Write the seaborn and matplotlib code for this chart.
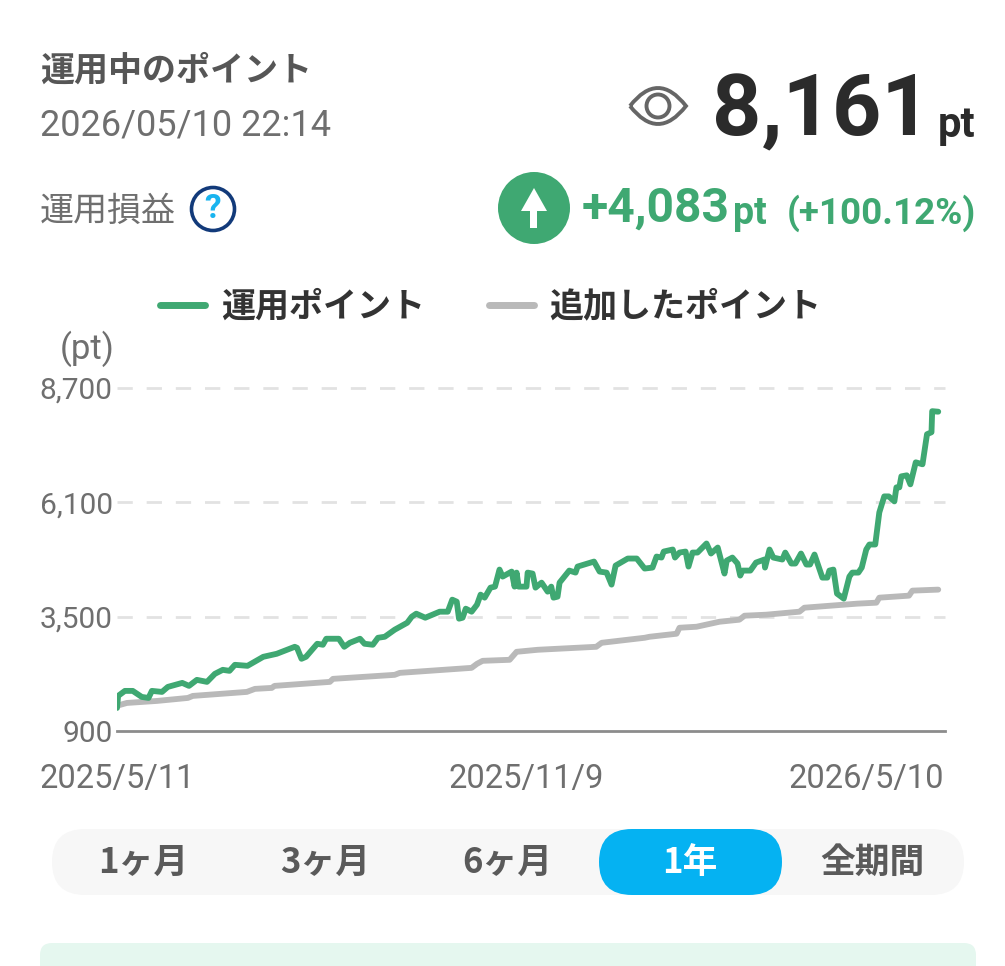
import matplotlib
matplotlib.use("Agg")
import matplotlib.pyplot as plt
from matplotlib.lines import Line2D
from matplotlib.patches import Circle, FancyBboxPatch, Polygon, PathPatch
from matplotlib.path import Path
from matplotlib.transforms import ScaledTranslation
import pandas as pd
import seaborn as sns

# ---- data -------------------------------------------------------------
series_names = ["運用ポイント", "追加したポイント"]
point_days = [0, 0.5, 3.5, 7, 11, 14, 15.5, 20, 22.6, 29, 32, 35.5, 40, 43.5, 47, 50, 52.4, 58, 65, 71,
              79, 80, 82, 84, 89, 91.5, 93, 98.6, 101, 103.5, 108, 110, 113.7, 116, 119, 123.4, 129, 131,
              133, 137, 143.4, 147, 149, 151, 152, 153.6, 155, 157.6, 160, 161.6, 163.4, 166, 168, 170,
              171.4, 175.4, 176.7, 177.6, 178.5, 182, 182.5, 184.7, 186, 188.7, 191.4, 193, 194, 195.8,
              196.7, 201, 203.8, 204.7, 212, 214.5, 217.6, 219.8, 221.6, 227, 231, 234.5, 238, 239.8,
              242, 243, 247, 248, 250, 252.7, 254, 255.8, 258, 262, 264, 267, 270, 271, 273.5, 275.8,
              277, 278, 281.5, 284, 287.7, 288, 290, 291.7, 295.7, 297, 299.7, 301.5, 304, 306.4, 308,
              310, 313.5, 315.7, 316.6, 318.4, 320, 323, 325.5, 326.8, 329.5, 331, 333, 334.4, 337,
              338.8, 341, 343, 345.5, 346.4, 347.7, 348.6, 351, 352.6, 355, 358, 360, 362, 362.3, 365]
point_values = [1424, 1698, 1812, 1812, 1675, 1652, 1812, 1789, 1903, 1994, 1926, 2063, 2017, 2200, 2291,
                2268, 2405, 2382, 2587, 2656, 2815, 2792, 2542, 2587, 2884, 2861, 2998, 2998, 2815, 2906,
                2998, 2884, 2861, 3020, 3043, 3203, 3362, 3499, 3568, 3476, 3613, 3613, 3887, 3841, 3454,
                3476, 3682, 3613, 3773, 4001, 3932, 4160, 4183, 4571,
                4411, 4525, 4183, 4502, 4183, 4183, 4502, 4480, 4160, 4274, 4069, 4183, 3932, 3955,
                4274, 4548, 4502, 4639, 4753, 4525, 4502, 4229, 4662, 4822, 4822, 4594, 4616, 4867,
                4844, 4981, 5027, 4844, 4958, 4981, 4639, 4958, 4958, 5164, 4936, 5072, 4480, 4776,
                4844, 4708, 4434, 4548, 4548, 4730, 4799, 4616, 5027, 4844, 4799, 4958, 4708, 4708,
                4936, 4685, 4685, 4913, 4388, 4388, 4548, 4571, 4024, 3910, 4411, 4502, 4502, 4616,
                5027, 5141, 5141, 5870, 6235, 6235, 6121, 6440, 6440, 6691, 6714, 6509, 7010, 6965,
                7649, 7694, 8173, 8161]
added_days = [0, 1.3, 4.4, 17.8, 31.5, 33.7, 57.7, 61.3, 68.8, 70, 94.6, 96, 123.4, 125.7, 157.6, 160,
              162.5, 174.5, 177.6, 187, 213, 215.4, 234.5, 236.7, 248.7, 250, 257.6, 267.8, 276.6, 278.9,
              288.6, 303.3, 305.5, 329, 337.5, 338.8, 352, 353.5, 365]
added_values = [1470, 1493, 1538, 1584, 1652, 1698, 1789, 1858, 1880, 1926, 2017, 2086, 2177, 2222, 2336,
                2428, 2496, 2519, 2701, 2747, 2815, 2906, 3020, 3043, 3112, 3248, 3271, 3385, 3431, 3522,
                3545, 3613, 3704, 3796, 3818, 3932, 3978, 4092, 4115]
y_ticks = [900, 3500, 6100, 8700]
x_ticks = [0, 182, 365]
x_labels = ["2025/5/11", "2025/11/9", "2026/5/10"]
pills = ["1ヶ月", "3ヶ月", "6ヶ月", "1年", "全期間"]

GREEN = "#3fa872"
GRAY = "#b9b9b9"
DARK = "#2b2b2b"
MID = "#6f6f6f"
JP = ["Noto Sans CJK JP", "DejaVu Sans"]

sns.set_theme(style="white")
plt.rcParams["font.family"] = ["Roboto", "Noto Sans CJK JP", "DejaVu Sans"]

W, H = 1005, 966
fig = plt.figure(figsize=(W / 100, H / 100), dpi=100, facecolor="white")

# ---- overlay for the surrounding page ---------------------------------
ui = fig.add_axes([0, 0, 1, 1], zorder=0)
ui.set_xlim(0, W)
ui.set_ylim(H, 0)
ui.axis("off")


def txt(x, y, s, size, color=DARK, weight="normal", ha="left", family=None):
    return ui.text(x, y, s, fontsize=size, color=color, fontweight=weight, ha=ha, va="center",
                   family=family or plt.rcParams["font.family"])


txt(40, 70, "運用中のポイント", 24.5, "#565656", "bold", family=JP)
txt(40, 125, "2026/05/10 22:14", 26, MID)
txt(40, 211, "運用損益", 24.5, MID, family=JP)
txt(712, 112, "8,161", 62, DARK, "bold")
txt(938, 125, "pt", 30, DARK, "bold")
txt(582, 209, "+4,083", 34.5, GREEN, "bold")
txt(733, 214, "pt", 27, GREEN, "bold")
txt(787, 213, "(+100.12%)", 26.5, GREEN, "bold")

# question badge
ui.add_patch(Circle((213, 209), 21.5, fc="white", ec="#123a7a", lw=2.6))
txt(213, 209, "?", 24, "#19b4ef", "bold", ha="center")

# up-arrow badge
ui.add_patch(Circle((534, 208), 36, fc=GREEN, ec="none"))
ui.add_patch(Polygon([(534, 188), (521, 211), (530, 211), (530, 228), (537, 228), (537, 211), (547, 211)],
                     closed=True, fc="white", ec="none"))

# eye icon
eye = Path([(630, 106), (658, 70), (686, 106), (658, 142), (630, 106)],
           [Path.MOVETO, Path.CURVE3, Path.CURVE3, Path.CURVE3, Path.CURVE3])
ui.add_patch(PathPatch(eye, fc="none", ec="#666666", lw=2.8))
ui.add_patch(Circle((658, 106), 11.5, fc="none", ec="#666666", lw=2.8))

# selector
ui.add_patch(FancyBboxPatch((52, 829), 912, 66, boxstyle="round,pad=0,rounding_size=33",
                            fc="#f7f7f7", ec="none"))
ui.add_patch(FancyBboxPatch((599, 829), 183, 66, boxstyle="round,pad=0,rounding_size=33",
                            fc="#05b2f2", ec="none"))
for cx, label in zip([143, 325, 507, 690, 872], pills):
    active = label == "1年"
    txt(cx, 862, label, 25, "white" if active else "#5a5a5a", "bold", ha="center", family=JP)

# panel peeking in at the bottom
ui.add_patch(FancyBboxPatch((40, 943), 936, 60, boxstyle="round,pad=0,rounding_size=12",
                            fc="#e5f7ef", ec="none"))

txt(60, 349, "(pt)", 25, MID)

# ---- chart ------------------------------------------------------------
left, right, top, bottom = 117, 945, 388, 731
ax = fig.add_axes([left / W, 1 - bottom / H, (right - left) / W, (bottom - top) / H], zorder=1)
ax.patch.set_alpha(0)

df = pd.concat([
    pd.DataFrame({"day": added_days, "pt": added_values, "series": series_names[1]}),
    pd.DataFrame({"day": point_days, "pt": point_values, "series": series_names[0]}),
])
sns.lineplot(data=df, x="day", y="pt", hue="series", hue_order=[series_names[1], series_names[0]],
             palette={series_names[0]: GREEN, series_names[1]: GRAY}, linewidth=4.2, estimator=None,
             sort=False, ax=ax, legend=False, solid_capstyle="round", solid_joinstyle="round")

ax.set_xlim(0, 368)
ax.set_ylim(900, 8700)
ax.set_xlabel("")
ax.set_ylabel("")
for s in ["top", "right", "left"]:
    ax.spines[s].set_visible(False)
ax.spines["bottom"].set_color("#8c8c8c")
ax.spines["bottom"].set_linewidth(2)
ax.set_yticks(y_ticks)
ax.set_yticklabels([f"{v:,}" for v in y_ticks], fontsize=21.5, color=MID)
ax.tick_params(axis="y", length=0, pad=3)
ax.set_xticks(x_ticks)
ax.set_xticklabels(x_labels, fontsize=23.5, color=MID)
ax.tick_params(axis="x", length=0, pad=23)
last = ax.get_xticklabels()[-1]
last.set_ha("right")
last.set_transform(last.get_transform() + ScaledTranslation(6 / 100, 0, fig.dpi_scale_trans))
ax.grid(False)
for v in y_ticks[1:]:
    ax.axhline(v, color="#e2e2e2", lw=2, dashes=(5.5, 5), zorder=0, clip_on=False)
for line in ax.get_lines()[:2]:
    line.set_zorder(3)

leg = ax.legend(
    handles=[Line2D([], [], color=GREEN, lw=5), Line2D([], [], color=GRAY, lw=5)],
    labels=series_names, ncol=2, frameon=False, loc="center",
    bbox_to_anchor=((491 - left) / (right - left), 1 + (388 - 306) / (bottom - top)),
    prop={"family": JP, "weight": "bold", "size": 24.5}, handlelength=1.3, handletextpad=0.47, columnspacing=1.9,
    labelcolor="#333333",
)

fig.savefig("out.png", dpi=100)
